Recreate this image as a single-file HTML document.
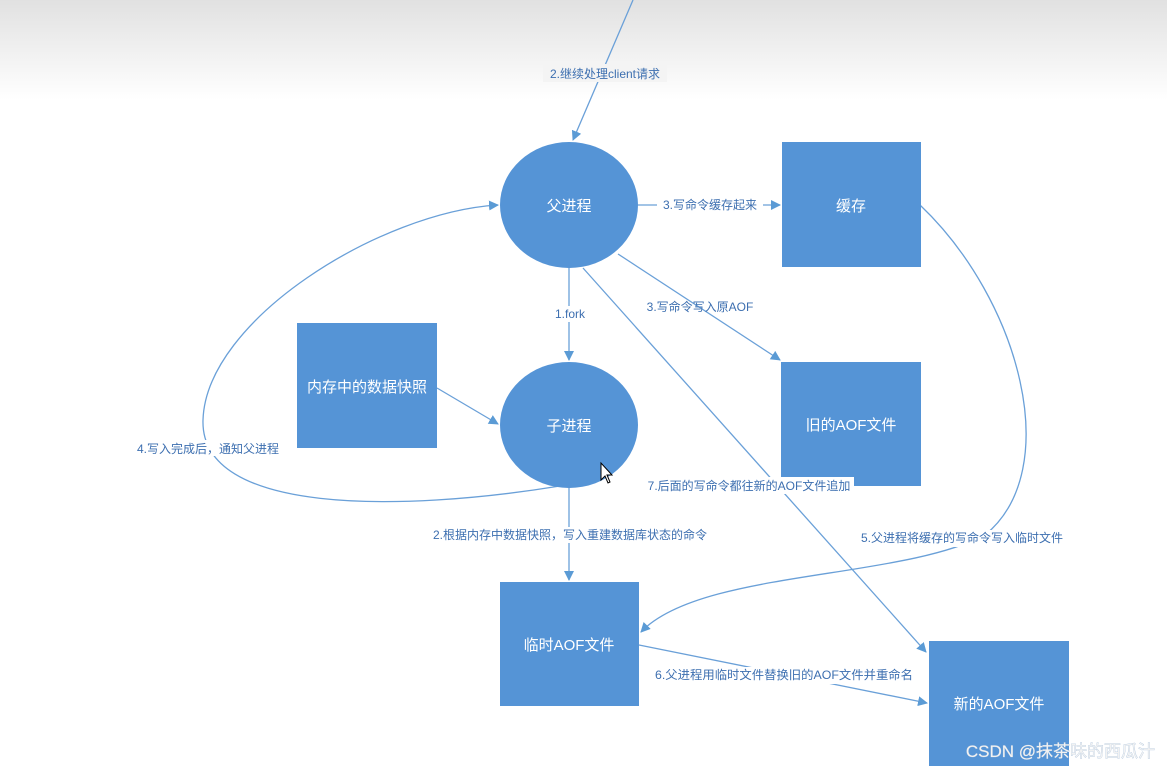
<!DOCTYPE html>
<html><head><meta charset="utf-8"><style>
html,body{margin:0;padding:0;width:1167px;height:772px;overflow:hidden;background:#fff}
svg{display:block}
text{font-family:"Liberation Sans","Noto Sans CJK SC",sans-serif}
</style></head><body>
<svg width="1167" height="772" viewBox="0 0 1167 772" xmlns="http://www.w3.org/2000/svg">
<defs>
<linearGradient id="bg" x1="0" y1="0" x2="0" y2="1">
<stop offset="0" stop-color="#e1e1e1"/><stop offset="1" stop-color="#ffffff"/>
</linearGradient>
<marker id="ah" markerWidth="10" markerHeight="10" refX="9" refY="5" orient="auto" markerUnits="userSpaceOnUse">
<path d="M0,0 L10,5 L0,10 Z" fill="#5b9bd5"/>
</marker>
</defs>
<rect x="0" y="0" width="1167" height="100" fill="url(#bg)"/>
<g stroke="#6aa0d8" stroke-width="1.3" fill="none" marker-end="url(#ah)">
<line x1="633" y1="0" x2="573" y2="140"/>
<line x1="638" y1="205" x2="780" y2="205"/>
<line x1="618" y1="254" x2="780" y2="360"/>
<line x1="569" y1="268" x2="569" y2="360"/>
<line x1="437" y1="388" x2="498" y2="424"/>
<path d="M560 486 C400 512,200 515,203 420 C206 320,380 212,498 205"/>
<line x1="569" y1="488" x2="569" y2="580"/>
<line x1="583" y1="268" x2="926" y2="652"/>
<path d="M920 205 C1020 300,1065 470,985 535 C900 580,700 570,641 632"/>
<line x1="639" y1="645" x2="927" y2="703"/>
</g>
<g fill="#5594d6">
<ellipse cx="569" cy="205" rx="69" ry="63"/>
<rect x="782" y="142" width="139" height="125"/>
<ellipse cx="569" cy="425" rx="69" ry="63"/>
<rect x="297" y="323" width="140" height="125"/>
<rect x="781" y="362" width="140" height="124"/>
<rect x="500" y="582" width="139" height="124"/>
<rect x="929" y="641" width="140" height="125"/>
</g>
<g fill="#fff" font-size="15" text-anchor="middle">
<text x="569" y="211">父进程</text>
<text x="851" y="211">缓存</text>
<text x="569" y="431">子进程</text>
<text x="367" y="392">内存中的数据快照</text>
<text x="851" y="430">旧的AOF文件</text>
<text x="569" y="650">临时AOF文件</text>
<text x="999" y="709">新的AOF文件</text>
</g>
<g font-size="12" fill="#3d6fb0" text-anchor="middle">
<rect x="543" y="64" width="124" height="18" fill="#f4f4f4" stroke="none"/>
<text x="605" y="78">2.继续处理client请求</text>
<rect x="657" y="197" width="106" height="16" fill="#fff"/>
<text x="710" y="209">3.写命令缓存起来</text>
<text x="700" y="311">3.写命令写入原AOF</text>
<rect x="552" y="306" width="36" height="16" fill="#fff"/>
<text x="570" y="318">1.fork</text>
<rect x="132" y="440" width="152" height="16" fill="#fff"/>
<text x="208" y="453">4.写入完成后，通知父进程</text>
<rect x="424" y="527" width="292" height="16" fill="#fff"/>
<text x="570" y="539">2.根据内存中数据快照，写入重建数据库状态的命令</text>
<rect x="643" y="477" width="211" height="17" fill="#fff"/>
<text x="749" y="490">7.后面的写命令都往新的AOF文件追加</text>
<rect x="855" y="530" width="215" height="17" fill="#fff"/>
<text x="962" y="542">5.父进程将缓存的写命令写入临时文件</text>
<rect x="653" y="667" width="262" height="17" fill="#fff"/>
<text x="784" y="679" textLength="258" lengthAdjust="spacingAndGlyphs">6.父进程用临时文件替换旧的AOF文件并重命名</text>
</g>
<text x="1155" y="757" font-size="17" fill="#f2f2f2" text-anchor="end" style="paint-order:stroke" stroke="#9bb8d8" stroke-width="0.5">CSDN @抹茶味的西瓜汁</text>
<path d="M601 463 L601 480 L605 476 L608 483 L610 482 L607 475 L612 475 Z" fill="#fff" stroke="#000" stroke-width="1"/>
</svg>
</body></html>
